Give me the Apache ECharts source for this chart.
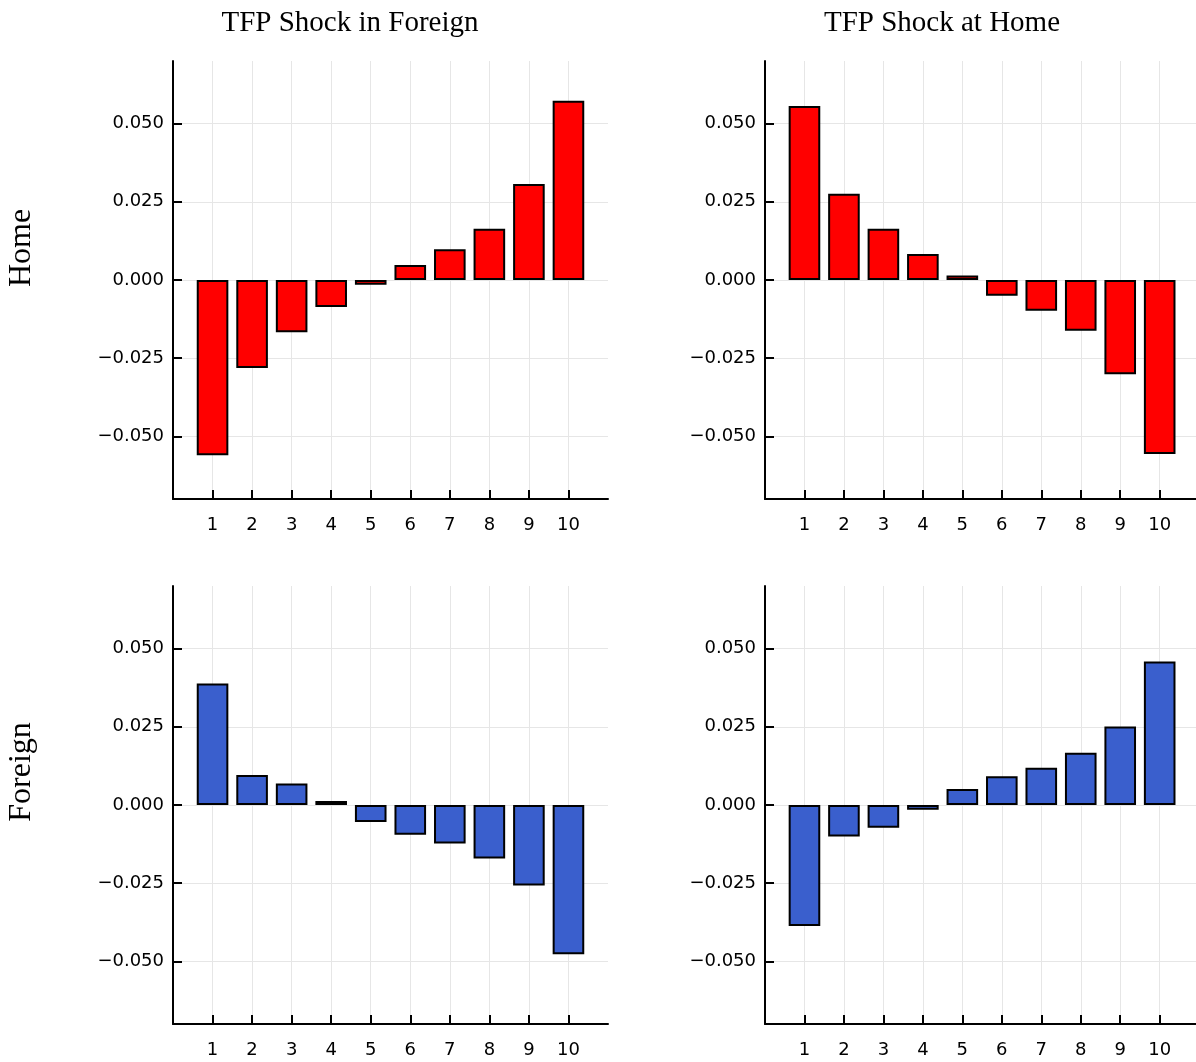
<!DOCTYPE html>
<html><head><meta charset="utf-8">
<script src="https://cdn.jsdelivr.net/npm/echarts@6/dist/echarts.min.js"></script>
<style>html,body{margin:0;padding:0;background:#fff}#c{width:1196px;height:1062px}</style>
</head><body><div id="c"></div>
<script>
const periods = [1,2,3,4,5,6,7,8,9,10];
const yTicks = [-0.05,-0.025,0,0.025,0.05];
const colTitles = ['TFP Shock in Foreign','TFP Shock at Home'];
const rowTitles = ['Home','Foreign'];
const homeForeignShock = [-0.0560,-0.0281,-0.0167,-0.0086,-0.0015,0.0048,0.0098,0.0164,0.0307,0.0573];
const homeHomeShock = [0.0556,0.0276,0.0164,0.0083,0.0014,-0.0050,-0.0098,-0.0162,-0.0301,-0.0556];
const foreignForeignShock = [0.0388,0.0096,0.0069,0.0013,-0.0054,-0.0095,-0.0123,-0.0171,-0.0257,-0.0477];
const foreignHomeShock = [-0.0387,-0.0101,-0.0073,-0.0015,0.0051,0.0092,0.0119,0.0167,0.0251,0.0459];

const panels = [
  {data: homeForeignShock, color: '#ff0000', left: 173, top: 61, width: 435, xMax: 11},
  {data: homeHomeShock, color: '#ff0000', left: 765, top: 61, width: 431, xMax: 10.92},
  {data: foreignForeignShock, color: '#3a5fcd', left: 173, top: 586, width: 435, xMax: 11},
  {data: foreignHomeShock, color: '#3a5fcd', left: 765, top: 586, width: 431, xMax: 10.92}
];

const fmt = v => (v < 0 ? '\u2212' : '') + Math.abs(v).toFixed(3);
const tickFont = {fontFamily: 'DejaVu Sans', fontSize: 18, color: '#000'};

const option = {
  animation: false,
  backgroundColor: '#fff',
  title: [
    {text: colTitles[0], left: 345, top: 4, textAlign: 'center',
     textStyle: {fontFamily: 'Liberation Serif', fontSize: 29, fontWeight: 'normal', color: '#000'}},
    {text: colTitles[1], left: 937, top: 4, textAlign: 'center',
     textStyle: {fontFamily: 'Liberation Serif', fontSize: 29, fontWeight: 'normal', color: '#000'}}
  ],
  graphic: [
    {type: 'text', x: 22, y: 248, rotation: Math.PI / 2,
     style: {text: rowTitles[0], font: '32px "Liberation Serif"', fill: '#000', align: 'center', verticalAlign: 'middle'}},
    {type: 'text', x: 22, y: 772, rotation: Math.PI / 2,
     style: {text: rowTitles[1], font: '32px "Liberation Serif"', fill: '#000', align: 'center', verticalAlign: 'middle'}}
  ],
  grid: panels.map(p => ({left: p.left, top: p.top, width: p.width, height: 438, containLabel: false})),
  xAxis: panels.map((p, i) => ({
    type: 'value', gridIndex: i, min: 0, max: p.xMax,
    axisLine: {show: true, onZero: false, lineStyle: {color: '#000', width: 2}},
    axisTick: {show: true, inside: true, length: 9, customValues: periods, lineStyle: {color: '#000', width: 2}},
    axisLabel: Object.assign({customValues: periods, margin: 17, formatter: v => String(v)}, tickFont),
    splitLine: {show: true, lineStyle: {color: '#e6e6e6', width: 1}}
  })),
  yAxis: panels.map((p, i) => ({
    type: 'value', gridIndex: i, min: -0.07, max: 0.07,
    axisLine: {show: true, onZero: false, lineStyle: {color: '#000', width: 2}},
    axisTick: {show: true, inside: true, length: 9, customValues: yTicks, lineStyle: {color: '#000', width: 2}},
    axisLabel: Object.assign({customValues: yTicks, margin: 9, formatter: fmt}, tickFont),
    splitLine: {show: true, lineStyle: {color: '#e6e6e6', width: 1}}
  })),
  series: panels.map((p, i) => ({
    type: 'bar', xAxisIndex: i, yAxisIndex: i,
    data: periods.map((x, k) => [x, p.data[k]]),
    barWidth: 31.6,
    itemStyle: {color: p.color, borderColor: '#000', borderWidth: 2}
  }))
};

const chart = echarts.init(document.getElementById('c'), null, {renderer: 'canvas'});
chart.setOption(option);
</script>
</body></html>
